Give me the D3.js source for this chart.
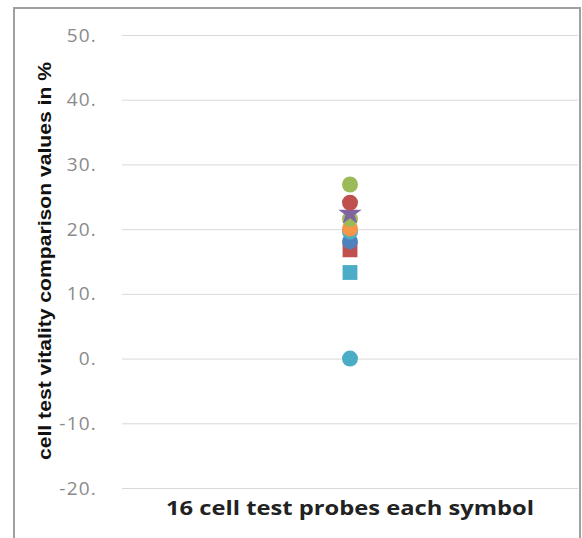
<!DOCTYPE html>
<html><head><meta charset="utf-8">
<script src="https://cdn.jsdelivr.net/npm/d3@7"></script>
<style>body{margin:0;background:#fff}svg{display:block}</style>
</head><body>
<script>
const seriesNames = ["probe 1","probe 2","probe 3","probe 4","probe 5","probe 6","probe 7","probe 8","probe 9","probe 10"];
const seriesValues = [0, 13.3, 16.8, 18.1, 19.6, 20.1, 21.6, 22.4, 24.1, 26.9];
const seriesColors = ["#4BACC6","#4BACC6","#C0504D","#4F81BD","#4BACC6","#F79646","#9BBB59","#8064A2","#C0504D","#9BBB59"];
const seriesSymbols = ["circle","square","square","circle","circle","circle","circle","star","circle","circle"];
const yTicks = [-20,-10,0,10,20,30,40,50];
const category = ["16 cell test probes each symbol"];
const yTitle = "cell test vitality comparison  values in %";

const W = 582, H = 538;
const svg = d3.select("body").append("svg").attr("width", W).attr("height", H);

svg.append("rect").attr("x",14).attr("y",8).attr("width",566).attr("height",545)
  .attr("fill","none").attr("stroke","#a0a0a0").attr("stroke-width",2);

const y = d3.scaleLinear().domain([-20,50]).range([488,35]);
const x = d3.scaleBand().domain(category).range([122,578]);

const axis = d3.axisLeft(y).tickValues(yTicks).tickSize(-(578-122)).tickPadding(25)
  .tickFormat(d => d + ".");
const g = svg.append("g").attr("transform","translate(122,0)").call(axis);
g.select(".domain").remove();
g.selectAll(".tick line").attr("stroke","#d9d9d9").attr("stroke-width",1);
g.selectAll(".tick text").attr("fill","#8a8a8a").style("font-family","'Open Sans', sans-serif")
  .style("font-size","19px").style("letter-spacing","1.2px");

const symMap = {circle: d3.symbolCircle, square: d3.symbolSquare, star: d3.symbolStar};
const sizeMap = {circle: 200, square: 220, star: 170};
const cx = x(category[0]) + x.bandwidth()/2;
svg.append("g").selectAll("path").data(seriesValues).join("path")
  .attr("d", (d,i) => d3.symbol().type(symMap[seriesSymbols[i]]).size(sizeMap[seriesSymbols[i]])())
  .attr("transform", d => `translate(${cx},${y(d)})`)
  .attr("fill", (d,i) => seriesColors[i]);

svg.append("text").attr("x", cx).attr("y", 515).attr("text-anchor","middle")
  .style("font-family","'Open Sans', sans-serif").style("font-weight","bold").style("font-size","19px")
  .attr("textLength",368).attr("lengthAdjust","spacingAndGlyphs")
  .attr("fill","#222").text(category[0]);

svg.append("text").attr("transform","translate(51,261) rotate(-90)").attr("text-anchor","middle")
  .style("font-family","'Liberation Sans', Arial, sans-serif").style("font-weight","bold").style("font-size","18px")
  .attr("textLength",398).attr("lengthAdjust","spacingAndGlyphs")
  .attr("fill","#111").text(yTitle);
</script>
</body></html>
